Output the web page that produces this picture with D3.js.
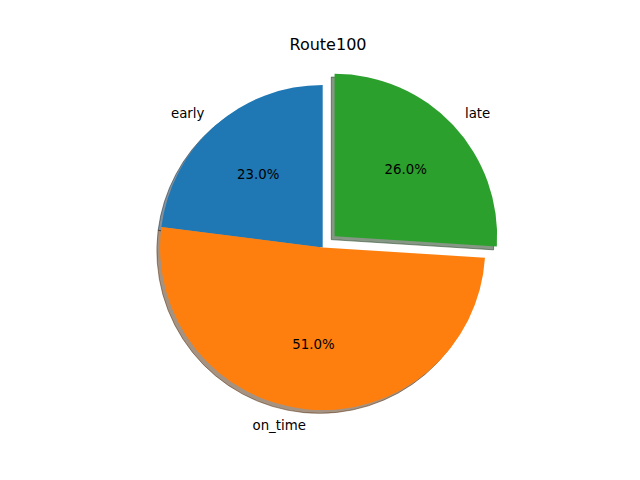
<!DOCTYPE html>
<html>
<head>
<meta charset="utf-8">
<script src="https://cdn.jsdelivr.net/npm/d3@7"></script>
<style>
  html, body { margin: 0; padding: 0; background: #fff; }
  svg { display: block; font-family: "DejaVu Sans", sans-serif; }
</style>
</head>
<body>
<svg id="chart" width="640" height="480"></svg>
<script>
const title = "Route100";
const categories = ["early", "on_time", "late"];
const values = [23, 51, 26];
const explode = [0, 0, 0.1];
const colors = ["#1f77b4", "#ff7f0e", "#2ca02c"];

const width = 640;
const height = 480;
const cx = 322.7;
const cy = 247.5;
const radiusPx = 162.6;

// data units (radius = 1) -> pixels
const r = d3.scaleLinear().domain([0, 1]).range([0, radiusPx]);

const svg = d3.select("#chart");

const pie = d3.pie()
  .sort(null)
  .startAngle(0)
  .endAngle(-2 * Math.PI)
  .value(function (d) { return d; });

const arcs = pie(values);
const total = d3.sum(values);

const arc = d3.arc().innerRadius(0).outerRadius(r(1));
const labelArc = d3.arc().innerRadius(r(1.1)).outerRadius(r(1.1));
const pctArc = d3.arc().innerRadius(r(0.6)).outerRadius(r(0.6));

function offset(d, i) {
  const a = (d.startAngle + d.endAngle) / 2;
  const e = r(explode[i]);
  return [e * Math.sin(a), -e * Math.cos(a)];
}

function darker(c) {
  const rgb = d3.rgb(c);
  return d3.rgb(rgb.r * 0.3, rgb.g * 0.3, rgb.b * 0.3).toString();
}

const g = svg.append("g").attr("transform", `translate(${cx},${cy})`);

// shadows, all below the wedges
g.selectAll(".shadow")
  .data(arcs)
  .enter()
  .append("path")
  .attr("class", "shadow")
  .attr("transform", function (d, i) {
    const o = offset(d, i);
    return `translate(${o[0] - r(0.02)},${o[1] + r(0.02)})`;
  })
  .attr("d", arc)
  .attr("fill", function (d, i) { return darker(colors[i]); })
  .attr("fill-opacity", 0.5)
  .attr("stroke", function (d, i) { return darker(colors[i]); })
  .attr("stroke-opacity", 0.5)
  .attr("stroke-width", 1);

g.selectAll(".wedge")
  .data(arcs)
  .enter()
  .append("path")
  .attr("class", "wedge")
  .attr("transform", function (d, i) {
    const o = offset(d, i);
    return `translate(${o[0]},${o[1]})`;
  })
  .attr("d", arc)
  .attr("fill", function (d, i) { return colors[i]; });

g.selectAll(".label")
  .data(arcs)
  .enter()
  .append("text")
  .attr("class", "label")
  .attr("x", function (d, i) { return labelArc.centroid(d)[0] + offset(d, i)[0]; })
  .attr("y", function (d, i) { return labelArc.centroid(d)[1] + offset(d, i)[1]; })
  .attr("text-anchor", function (d) { return labelArc.centroid(d)[0] < 0 ? "end" : "start"; })
  .attr("dominant-baseline", "central")
  .attr("font-size", "13.33px")
  .attr("fill", "#000")
  .text(function (d, i) { return categories[i]; });

g.selectAll(".pct")
  .data(arcs)
  .enter()
  .append("text")
  .attr("class", "pct")
  .attr("x", function (d, i) { return pctArc.centroid(d)[0] + offset(d, i)[0]; })
  .attr("y", function (d, i) { return pctArc.centroid(d)[1] + offset(d, i)[1]; })
  .attr("text-anchor", "middle")
  .attr("dominant-baseline", "central")
  .attr("font-size", "13.33px")
  .attr("fill", "#000")
  .text(function (d) { return (d.value / total * 100).toFixed(1) + "%"; });

svg.append("text")
  .attr("x", 328)
  .attr("y", 49.6)
  .attr("text-anchor", "middle")
  .attr("font-size", "16px")
  .attr("fill", "#000")
  .text(title);
</script>
</body>
</html>
